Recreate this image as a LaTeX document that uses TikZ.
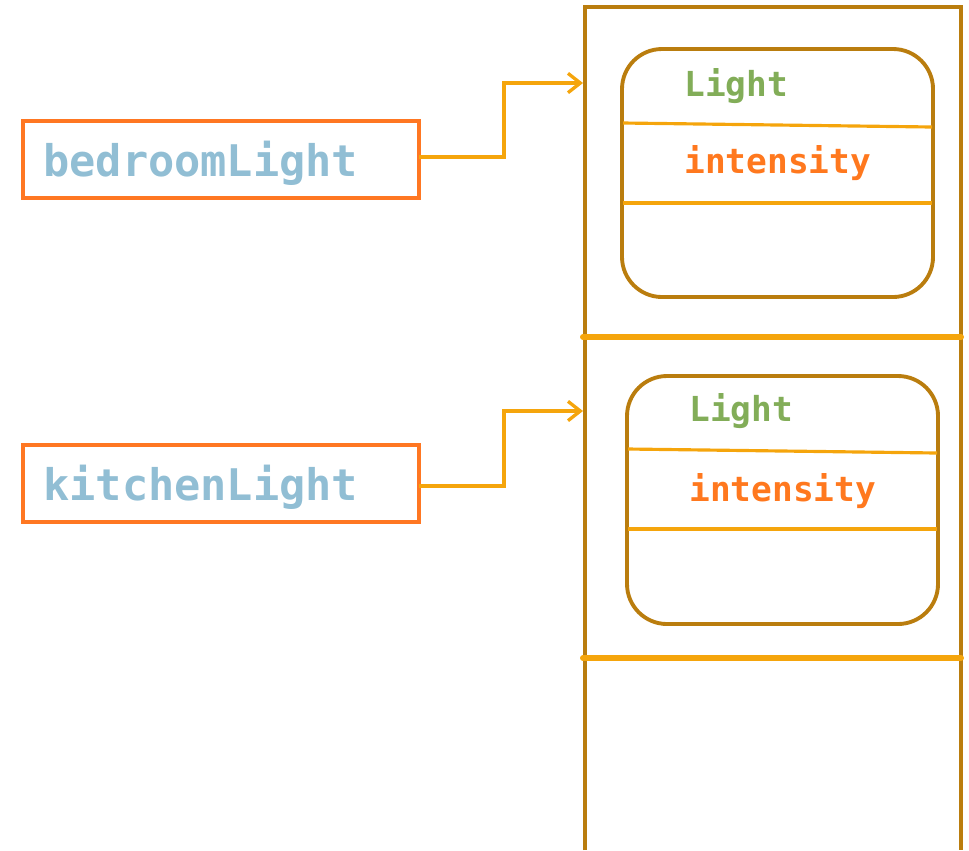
\documentclass[tikz,border=0pt]{standalone}
\usepackage{fontspec}
\newfontfamily\codefont{DejaVu Sans Mono}
\usetikzlibrary{arrows.meta}

\definecolor{stackbrown}{RGB}{186,125,14}
\definecolor{lineorange}{RGB}{245,165,12}
\definecolor{refborder}{RGB}{255,119,34}
\definecolor{refblue}{RGB}{145,190,212}
\definecolor{classgreen}{RGB}{130,173,88}
\definecolor{fieldorange}{RGB}{255,120,30}

\tikzset{
  refbox/.style={draw=refborder, line width=2.2pt, minimum width=7.92cm, minimum height=1.54cm, inner sep=0pt, outer sep=0pt, anchor=north west},
  reftext/.style={font=\codefont\bfseries\fontsize{24.8}{28}\selectfont, text=refblue, inner sep=0pt, anchor=base west},
  classname/.style={font=\codefont\bfseries\fontsize{19.6}{22}\selectfont, text=classgreen, inner sep=0pt, anchor=base west},
  fieldname/.style={font=\codefont\bfseries\fontsize{19.6}{22}\selectfont, text=fieldorange, inner sep=0pt, anchor=base west},
  objbox/.style={draw=stackbrown, line width=2.2pt, rounded corners=0.8cm},
  objline/.style={draw=lineorange, line width=1.8pt},
  slotline/.style={draw=lineorange, line width=3.4pt, line cap=round},
  stackwall/.style={draw=stackbrown, line width=2.2pt},
  refarrow/.style={draw=lineorange, line width=1.9pt, -{Straight Barb[length=7pt, width=11pt, line width=1.9pt]}}
}

\begin{document}
\begin{tikzpicture}[x=0.02cm, y=-0.02cm]
  \useasboundingbox (0,0) rectangle (969,850);

  % heap column with its slots
  \draw[stackwall] (585,850) -- (585,7) -- (961,7) -- (961,850);
  \draw[slotline] (583,337) -- (961,337);
  \draw[slotline] (583,658) -- (961,658);
  \coordinate (slotA) at (583,83);
  \coordinate (slotB) at (583,411);

  % first Light object
  \draw[objbox] (622,49) rectangle (933,297);
  \draw[objline] (623,123) -- (932,127);
  \draw[objline] (623,203) -- (932,203);
  \node[classname] (clsA) at (684,96) {Light};
  \node[fieldname] (fldA) at (684,173) {intensity};

  % second Light object
  \draw[objbox] (627,376) rectangle (938,624);
  \draw[objline] (628,449) -- (937,453);
  \draw[objline] (628,529) -- (937,529);
  \node[classname] (clsB) at (689,421) {Light};
  \node[fieldname] (fldB) at (689,501) {intensity};

  % reference variables
  \node[refbox] (bed) at (23,121) {};
  \node[reftext] (bedtxt) at (43,176) {bedroomLight};
  \node[refbox] (kit) at (23,445) {};
  \node[reftext] (kittxt) at (43,500) {kitchenLight};

  % references pointing into the heap
  \draw[refarrow] (bed.east |- 0,157) -- (504,157) |- (slotA);
  \draw[refarrow] (kit.east |- 0,486) -- (504,486) |- (slotB);
\end{tikzpicture}
\end{document}
